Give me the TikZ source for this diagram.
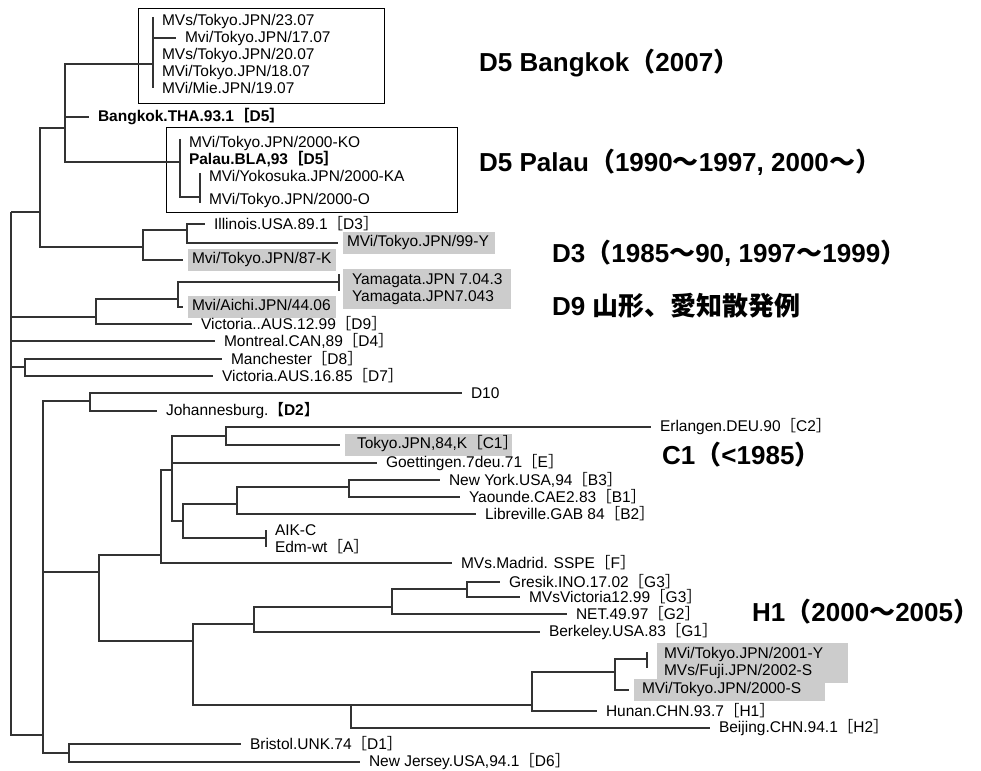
\documentclass[tikz,border=0pt]{standalone}
\usepackage{fontspec}
\setmainfont{Liberation Sans}
\newfontfamily\cjk{Noto Sans CJK JP}
\newcommand{\grp}[1]{{\cjk ［}#1{\cjk ］}}
\newcommand{\fwl}{{\cjk （}}
\newcommand{\fwr}{{\cjk ）}\kern-.4em}
\newcommand{\fwt}{{\cjk ～}}
\tikzset{
  branch/.style={draw=black!80, line width=1.1pt},
  leaf/.style={anchor=west, inner xsep=4pt, inner ysep=2pt, outer xsep=5pt, outer ysep=0pt,
    font=\fontsize{15.5}{17}\selectfont},
  leafbold/.style={leaf, font=\fontsize{15.5}{17}\selectfont\bfseries},
  hilite/.style={leaf, fill=black!20, inner ysep=3.5pt, text height=11pt, text depth=3.5pt},
  hilitetwo/.style={anchor=west, fill=black!20, inner ysep=4pt, outer sep=0pt, align=left,
    font=\fontsize{15.5}{17}\selectfont},
  cladebox/.style={draw=black, line width=1pt},
  note/.style={anchor=west, inner sep=0pt, font=\bfseries\fontsize{26}{28}\selectfont}
}
\begin{document}
\begin{tikzpicture}[x=1pt, y=-1pt]
    \useasboundingbox (0,0) rectangle (981,770);

    % internal nodes of the tree
    \coordinate (r) at (11,212);
    \coordinate (d5) at (40,212);
    \coordinate (d5a) at (65,128);
    \coordinate (bkk07) at (153,64);
    \coordinate (pal) at (180,162);
    \coordinate (pal2) at (200,197);
    \coordinate (d3) at (143,247);
    \coordinate (d3a) at (187,230);
    \coordinate (d9) at (96,317);
    \coordinate (d9a) at (178,299);
    \coordinate (yamtip) at (339,282);
    \coordinate (d78) at (25,367);
    \coordinate (low) at (43,735);
    \coordinate (d2x) at (90,401);
    \coordinate (abc) at (99,572);
    \coordinate (cfe) at (161,555);
    \coordinate (ce) at (172,470);
    \coordinate (c12) at (226,436);
    \coordinate (ab) at (183,521);
    \coordinate (aiktip) at (266,538);
    \coordinate (bb) at (237,504);
    \coordinate (b13) at (349,487);
    \coordinate (gh) at (193,641);
    \coordinate (gg) at (254,624);
    \coordinate (g23) at (392,607);
    \coordinate (g3) at (467,589);
    \coordinate (hh) at (351,705);
    \coordinate (h1) at (532,705);
    \coordinate (h1jp) at (615,672);
    \coordinate (jptip) at (647,659);
    \coordinate (d16) at (69,753);

    % D5 Bangkok clade (boxed)
    \draw[cladebox] (138,9) rectangle (384,104);
    \node[leaf] (t2307) at (153,21) {MVs/Tokyo.JPN/23.07};
    \node[leaf] (t1707) at (176,38) {Mvi/Tokyo.JPN/17.07};
    \node[leaf] (t2007) at (153,55) {MVs/Tokyo.JPN/20.07};
    \node[leaf] (t1807) at (153,72) {MVi/Tokyo.JPN/18.07};
    \node[leaf] (m1907) at (153,88) {MVi/Mie.JPN/19.07};
    \draw[branch, shorten <=-4pt] (t2307.west) -- (m1907.west);
    \draw[branch] (bkk07) |- (t1707.west);
    \node[leafbold] (bkk) at (89,117) {Bangkok.THA.93.1\grp{D5}};

    % D5 Palau clade (boxed)
    \draw[cladebox] (166,128) rectangle (457,212);
    \node[leaf] (ko) at (180,143) {MVi/Tokyo.JPN/2000-KO};
    \node[leafbold] (pal93) at (180,159) {Palau.BLA,93\grp{D5}};
    \node[leaf] (yoko) at (200,176) {MVi/Yokosuka.JPN/2000-KA};
    \node[leaf] (o2000) at (200,200) {MVi/Tokyo.JPN/2000-O};
    \draw[branch, shorten <=-4pt] (ko.west) -- (pal);
    \draw[branch] (pal) |- (pal2);
    \draw[branch, shorten <=-3pt, shorten >=-3pt] (yoko.west) -- (o2000.west);

    \draw[branch] (r) -- (d5);
    \draw[branch] (d5) |- (d5a);
    \draw[branch] (d5a) |- (bkk07);
    \draw[branch] (d5a) |- (bkk.west);
    \draw[branch] (d5a) |- (pal);

    % D3 clade
    \node[leaf] (ill) at (205,224) {Illinois.USA.89.1\grp{D3}};
    \node[hilite] (y99) at (338,243) {\makebox[144pt][l]{MVi/Tokyo.JPN/99-Y}};
    \node[hilite] (k87) at (183,260) {\makebox[140pt][l]{Mvi/Tokyo.JPN/87-K}};
    \draw[branch] (d5) |- (d3);
    \draw[branch] (d3) |- (d3a);
    \draw[branch] (d3) |- (k87.west);
    \draw[branch] (d3a) |- (ill.west);
    \draw[branch] (d3a) |- (y99.west);

    % D9 clade
    \node[hilitetwo, inner xsep=9pt] (yam) at (343,289)
        {\makebox[150pt][l]{Yamagata.JPN 7.04.3}\\Yamagata.JPN7.043};
    \node[hilite] (aichi) at (183,307) {\makebox[140pt][l]{Mvi/Aichi.JPN/44.06}};
    \node[leaf] (vic99) at (192,324) {Victoria..AUS.12.99\grp{D9}};
    \draw[branch] (r) |- (d9);
    \draw[branch] (d9) |- (d9a);
    \draw[branch] (d9) |- (vic99.west);
    \draw[branch] (d9a) |- (yamtip);
    \draw[branch] (yamtip) ++(0,-8) -- ++(0,17);
    \draw[branch] (d9a) |- (aichi.west);

    % D4, D8, D7
    \node[leaf] (mon) at (215,341) {Montreal.CAN,89\grp{D4}};
    \node[leaf] (man) at (222,359) {Manchester\grp{D8}};
    \node[leaf] (vic85) at (213,376) {Victoria.AUS.16.85\grp{D7}};
    \draw[branch] (r) |- (mon.west);
    \draw[branch] (r) |- (d78);
    \draw[branch] (d78) |- (man.west);
    \draw[branch] (d78) |- (vic85.west);

    % lower half
    \draw[branch] (r) |- (low);
    \draw[branch] (low) |- (d2x);
    \draw[branch] (low) |- (abc);
    \draw[branch] (low) |- (d16);

    % D10, D2
    \node[leaf] (d10) at (462,393) {D10};
    \node[leaf] (joh) at (157,411) {Johannesburg.{\cjk 【}\textbf{D2}{\cjk 】}};
    \draw[branch] (d2x) |- (d10.west);
    \draw[branch] (d2x) |- (joh.west);

    % C, E, B, A, F
    \node[leaf] (erl) at (651,427) {Erlangen.DEU.90\grp{C2}};
    \node[hilite, inner xsep=12pt] (tok84) at (340,445) {\makebox[143pt][l]{Tokyo.JPN,84,K\grp{C1}}};
    \node[leaf] (goe) at (377,463) {Goettingen.7deu.71\grp{E}};
    \node[leaf] (ny) at (440,480) {New York.USA,94\grp{B3}};
    \node[leaf] (yao) at (460,497) {Yaounde.CAE2.83\grp{B1}};
    \node[leaf] (lib) at (476,514) {Libreville.GAB 84\grp{B2}};
    \node[leaf] (aik) at (266,530) {AIK-C};
    \node[leaf] (edm) at (266,547) {Edm-wt\grp{A}};
    \node[leaf] (mad) at (452,563) {MVs.Madrid. SSPE\grp{F}};
    \draw[branch] (abc) |- (cfe);
    \draw[branch] (cfe) |- (ce);
    \draw[branch] (cfe) |- (mad.west);
    \draw[branch] (ce) |- (c12);
    \draw[branch] (ce) |- (goe.west);
    \draw[branch] (ce) |- (ab);
    \draw[branch] (c12) |- (erl.west);
    \draw[branch] (c12) |- (tok84.west);
    \draw[branch] (ab) |- (bb);
    \draw[branch] (ab) |- (aiktip);
    \draw[branch] (aik.west) -- (edm.west);
    \draw[branch] (bb) |- (b13);
    \draw[branch] (bb) |- (lib.west);
    \draw[branch] (b13) |- (ny.west);
    \draw[branch] (b13) |- (yao.west);

    % G and H
    \node[leaf] (gre) at (500,582) {Gresik.INO.17.02\grp{G3}};
    \node[leaf] (mvsv) at (520,597) {MVsVictoria12.99\grp{G3}};
    \node[leaf] (net) at (567,614) {NET.49.97\grp{G2}};
    \node[leaf] (berk) at (540,632) {Berkeley.USA.83\grp{G1}};
    \node[hilitetwo, inner xsep=7pt] (jp01) at (657,663)
        {\makebox[177pt][l]{MVi/Tokyo.JPN/2001-Y}\\MVs/Fuji.JPN/2002-S};
    \node[hilite, inner xsep=8pt] (s2000) at (629,690) {\makebox[175pt][l]{MVi/Tokyo.JPN/2000-S}};
    \node[leaf] (hun) at (597,711) {Hunan.CHN.93.7\grp{H1}};
    \node[leaf] (bei) at (710,728) {Beijing.CHN.94.1\grp{H2}};
    \draw[branch] (abc) |- (gh);
    \draw[branch] (gh) |- (gg);
    \draw[branch] (gh) |- (hh);
    \draw[branch] (gg) |- (g23);
    \draw[branch] (gg) |- (berk.west);
    \draw[branch] (g23) |- (g3);
    \draw[branch] (g23) |- (net.west);
    \draw[branch] (g3) |- (gre.west);
    \draw[branch] (g3) |- (mvsv.west);
    \draw[branch] (hh) |- (h1);
    \draw[branch] (hh) |- (bei.west);
    \draw[branch] (h1) |- (h1jp);
    \draw[branch] (h1) |- (hun.west);
    \draw[branch] (h1jp) |- (jptip);
    \draw[branch] (jptip) ++(0,-7) -- ++(0,16);
    \draw[branch] (h1jp) |- (s2000.west);

    % D1, D6
    \node[leaf] (bri) at (241,744) {Bristol.UNK.74\grp{D1}};
    \node[leaf] (nj) at (360,762) {New Jersey.USA,94.1\grp{D6}};
    \draw[branch] (d16) |- (bri.west);
    \draw[branch] (d16) |- (nj.west);

    % genotype notes
    \node[note] (nbkk) at (479,63) {D5 Bangkok\fwl2007\fwr};
    \node[note] (npal) at (479,162) {D5 Palau\fwl1990\fwt1997, 2000\fwt\fwr};
    \node[note] (nd3) at (552,253) {D3\fwl1985\fwt90, 1997\fwt1999\fwr};
    \node[note] (nd9) at (552,306) {D9 {\cjk 山形、愛知散発例}};
    \node[note] (nc1) at (662,455) {C1\fwl<1985\fwr};
    \node[note] (nh1) at (752,612) {H1\fwl2000\fwt2005\fwr};
\end{tikzpicture}
\end{document}
